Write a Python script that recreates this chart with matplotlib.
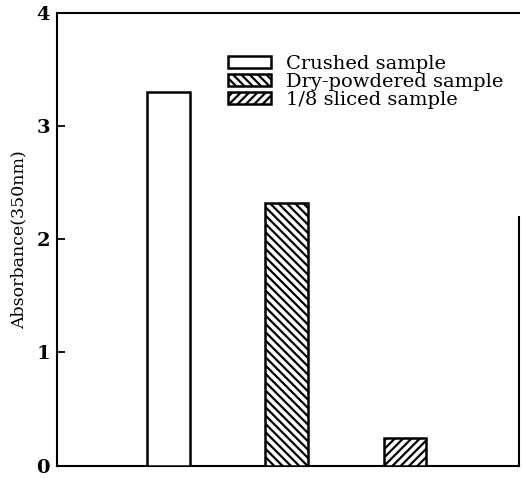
import matplotlib
matplotlib.use("Agg")
import matplotlib.pyplot as plt
from matplotlib.patches import Patch

categories = ["Crushed sample", "Dry-powdered sample", "1/8 sliced sample"]
values = [3.3, 2.32, 0.24]
hatches = ["", "\\\\\\\\", "////"]
yticks = [0, 1, 2, 3, 4]

plt.rcParams["font.family"] = ["DejaVu Serif"]
plt.rcParams["hatch.linewidth"] = 1.6

fig = plt.figure(figsize=(5.22, 4.78), dpi=100)
ax = fig.add_axes([0.109, 0.026, 0.885, 0.947])

pos = [1, 2, 3]
for p, v, h, c in zip(pos, values, hatches, categories):
    ax.bar(p, v, width=0.36, facecolor="white", edgecolor="black",
           linewidth=1.8, hatch=h, label=c, zorder=3)

ax.set_xlim(0.06, 3.96)
ax.set_ylim(0, 4)
ax.set_yticks(yticks)
ax.set_yticklabels([str(t) for t in yticks], fontsize=14, fontweight="bold")
ax.set_xticks([])
ax.tick_params(axis="y", direction="in", length=6, width=1.3, pad=5)
for s in ax.spines.values():
    s.set_linewidth(1.5)
ax.spines["right"].set_bounds(0, 2.2)

ax.set_ylabel("Absorbance(350nm)", fontsize=12.5, labelpad=6)

handles = [Patch(facecolor="white", edgecolor="black", linewidth=1.8, hatch=h)
           for h in hatches]
leg = ax.legend(handles, categories, loc="upper left",
                bbox_to_anchor=(0.37, 0.907), frameon=False, fontsize=14,
                handlelength=2.2, handleheight=0.55, labelspacing=0.0,
                handletextpad=0.8, borderpad=0, borderaxespad=0)

fig.savefig("out.png", dpi=100)
